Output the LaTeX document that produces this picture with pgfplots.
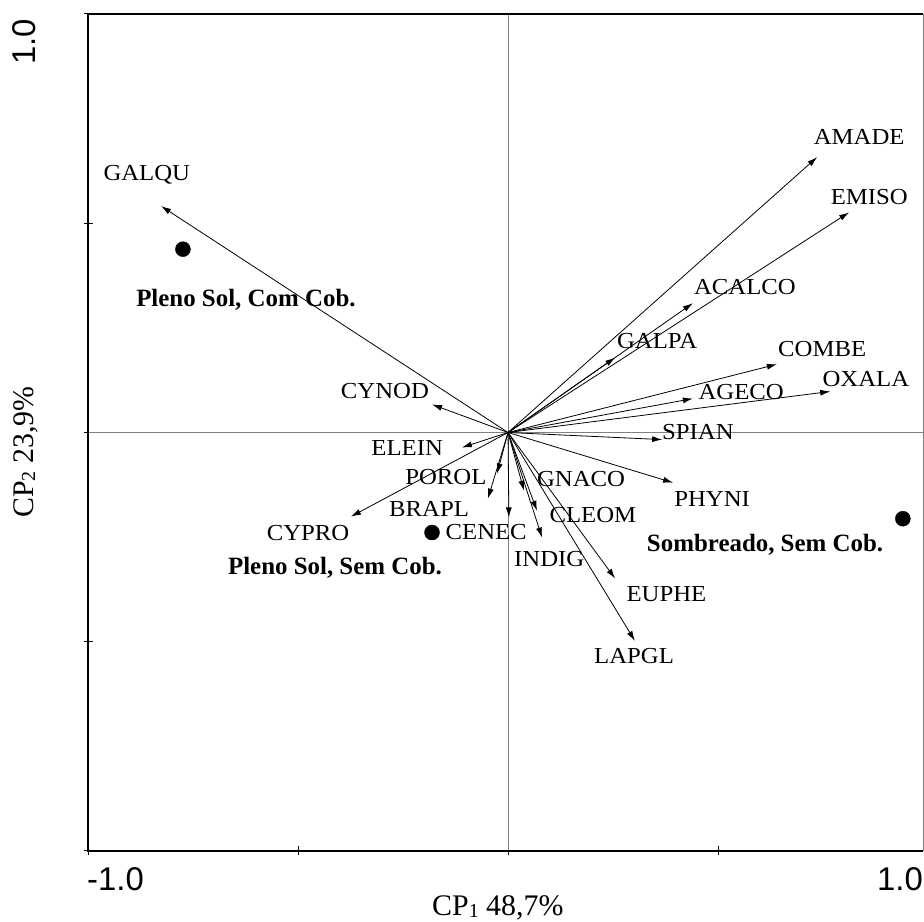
\documentclass[border=0pt]{standalone}
\usepackage{pgfplots}
\pgfplotsset{compat=1.18}
\usepackage{pgfplotstable}
\usepackage{fontspec}
\setmainfont{Liberation Serif}
\newfontfamily\labfont[FakeStretch=1.08]{Liberation Serif}
\newfontfamily\arial{Liberation Sans}
\usetikzlibrary{arrows.meta}

\pgfplotstableread{
name x y lx ly
GALQU -0.826 0.541 -0.860 0.620
AMADE 0.736 0.658 0.836 0.706
EMISO 0.812 0.526 0.860 0.562
ACALCO 0.440 0.309 0.564 0.347
GALPA 0.255 0.179 0.355 0.220
COMBE 0.640 0.163 0.748 0.199
OXALA 0.767 0.098 0.852 0.129
AGECO 0.440 0.081 0.555 0.098
SPIAN 0.367 -0.017 0.452 0.002
PHYNI 0.393 -0.120 0.486 -0.158
CYNOD -0.181 0.067 -0.293 0.100
ELEIN -0.110 -0.036 -0.240 -0.038
POROL -0.026 -0.098 -0.148 -0.105
BRAPL -0.048 -0.158 -0.188 -0.182
CYPRO -0.374 -0.201 -0.476 -0.239
CENEC 0.002 -0.203 -0.052 -0.237
GNACO 0.038 -0.139 0.174 -0.110
CLEOM 0.069 -0.187 0.202 -0.196
INDIG 0.081 -0.251 0.098 -0.301
EUPHE 0.255 -0.349 0.377 -0.385
LAPGL 0.302 -0.498 0.300 -0.533
}\vars

\pgfplotstableread[col sep=semicolon]{
x;y;lx;ly;lab
-0.774;0.438;-0.624;0.321;Pleno Sol, Com Cob.
-0.181;-0.239;-0.412;-0.318;Pleno Sol, Sem Cob.
0.940;-0.206;0.612;-0.263;Sombreado, Sem Cob.
}\groups

\begin{document}
\begin{tikzpicture}[x=1bp,y=1bp]
\path[use as bounding box] (0,0) rectangle (924,922);
\begin{axis}[
  at={(88bp,71bp)}, anchor=south west,
  scale only axis, width=835bp, height=837bp,
  xmin=-1, xmax=0.988, ymin=-1, ymax=1,
  clip=false,
  axis line style={draw=none},
  xtick={-1,-0.5,0,0.5}, ytick={-1,-0.5,0,0.5,1},
  xticklabels={}, yticklabels={},
  xtick pos=bottom, ytick pos=left,
  tick align=center, major tick length=9bp,
  tick style={black, line width=1bp},
]
\draw[gray, line width=0.6bp] (axis cs:0,-1) -- (axis cs:0,1);
\draw[gray, line width=0.6bp] (axis cs:-1,0) -- (axis cs:0.988,0);
\draw[black, line width=1.8bp] (rel axis cs:1,1) -- (rel axis cs:0,1) -- (rel axis cs:0,0) -- (rel axis cs:1,0);
\draw[gray, line width=0.8bp] (rel axis cs:1,0) -- (rel axis cs:1,1);

\addplot[black, line width=0.8bp, -{Latex[length=10bp,width=6bp]},
  quiver={u=\thisrow{x}, v=\thisrow{y}}] table[x expr=0, y expr=0] {\vars};

\addplot[only marks, mark=none, nodes near coords, point meta=explicit symbolic,
  nodes near coords style={anchor=center, inner sep=0pt, text depth=0pt,
    font=\labfont\fontsize{23}{26}\selectfont}]
  table[x=lx, y=ly, meta=name] {\vars};

\addplot[only marks, mark=*, mark size=7.5bp, black] table[x=x, y=y] {\groups};

\addplot[only marks, mark=none, nodes near coords, point meta=explicit symbolic,
  nodes near coords style={anchor=center, inner sep=0pt, text depth=0pt,
    font=\fontsize{25}{27}\selectfont\bfseries}]
  table[x=lx, y=ly, meta=lab] {\groups};
\end{axis}
\node[anchor=west, inner sep=0pt, font=\arial\fontsize{33}{36}\selectfont] at (87,43) {-1.0};
\node[anchor=east, inner sep=0pt, font=\arial\fontsize{33}{36}\selectfont] at (923,43) {1.0};
\node[rotate=90, inner sep=0pt, font=\arial\fontsize{33}{36}\selectfont] at (24,880) {1.0};
\node[anchor=base west, inner sep=0pt, font=\fontsize{30}{32}\selectfont] at (432,6) {CP\raisebox{-2bp}{\fontsize{20}{22}\selectfont 1} 48,7\%};
\node[anchor=base west, rotate=90, inner sep=0pt, font=\fontsize{30}{32}\selectfont] at (33,404) {CP\raisebox{-2bp}{\fontsize{20}{22}\selectfont 2} 23,9\%};
\end{tikzpicture}
\end{document}
